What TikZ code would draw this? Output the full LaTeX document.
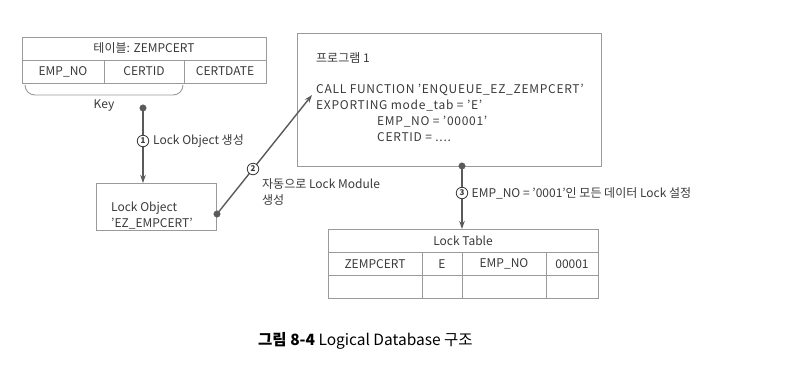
\documentclass[tikz,border=0pt]{standalone}
\usepackage{fontspec}
\setmainfont{Noto Sans CJK KR}
\usetikzlibrary{arrows.meta}
\definecolor{ink}{HTML}{3A3A3A}
\definecolor{frame}{HTML}{9A9A9A}
\definecolor{wire}{HTML}{5A5A5A}
\begin{document}
\begin{tikzpicture}[x=1pt,y=-1pt,
  txt/.style={text=ink,font=\fontsize{12}{14}\selectfont,inner sep=0pt},
  code/.style={txt,font=\fontsize{12}{14}\selectfont\addfontfeature{LetterSpace=6}},
  cell/.style={txt,anchor=center},
  frm/.style={draw=frame,line width=0.7pt},
  boxnode/.style={frm,rectangle,inner sep=0pt,anchor=north west},
  wireline/.style={draw=wire,line width=1.4pt},
  arr/.style={wireline,-{Stealth[length=8pt,width=5.5pt]}},
  pin/.style={circle,fill=wire,draw=wire,inner sep=0pt,minimum size=6.5pt},
  num/.style={circle,draw=ink,fill=white,line width=0.8pt,inner sep=0pt,minimum size=11.5pt,
    text=ink,font=\fontsize{8}{9}\selectfont\bfseries}
]
\fill[white] (0,0) rectangle (806,376);

% --- table ZEMPCERT ---
\node[boxnode,minimum width=244pt,minimum height=46pt] (ztab) at (22,37) {};
\draw[frm] (22,60) -- (266,60);
\draw[frm] (104,60) -- (104,83);
\draw[frm] (184,60) -- (184,83);
\node[cell] (ztitle) at (144,48.5) {테이블: ZEMPCERT};
\node[cell] (zc1) at (63,71.5) {EMP\_NO};
\node[cell] (zc2) at (144,71.5) {CERTID};
\node[cell] (zc3) at (225,71.5) {CERTDATE};
% key bracket
\draw[draw=frame,line width=0.9pt] (25,85) to[out=-90,in=180] (35,95) -- (173,95) to[out=0,in=-90] (183,85);
\node[cell] (key) at (104,105) {Key};

% --- Lock Object box ---
\node[boxnode,minimum width=120pt,minimum height=47pt] (lobj) at (96,183) {};
\node[txt,anchor=base west] (lobjt1) at (111,211) {Lock Object};
\node[txt,anchor=base west] (lobjt2) at (111,227) {'EZ\_EMPCERT'};

% --- program box ---
\node[boxnode,minimum width=304pt,minimum height=133pt] (prog) at (297,33) {};
\node[txt,anchor=base west] (p0) at (316,62) {프로그램 1};
\node[code,anchor=base west] (p1) at (316,93) {CALL FUNCTION 'ENQUEUE\_EZ\_ZEMPCERT'};
\node[code,anchor=base west] (p2) at (316,109) {EXPORTING mode\_tab = 'E'};
\node[code,anchor=base west] (p3) at (377,125) {EMP\_NO = '00001'};
\node[code,anchor=base west] (p4) at (377,141) {CERTID = ....};

% --- Lock Table ---
\node[boxnode,minimum width=270pt,minimum height=69pt] (ltab) at (328,229) {};
\draw[frm] (328,252) -- (598,252);
\draw[frm] (328,275) -- (598,275);
\foreach \cx in {422,462,546} \draw[frm] (\cx,252) -- (\cx,298);
\node[cell] (lt0) at (463,241) {Lock Table};
\node[cell] (lt1) at (375,264) {ZEMPCERT};
\node[cell] (lt2) at (442,264) {E};
\node[cell] (lt3) at (504,264) {EMP\_NO};
\node[cell] (lt4) at (572,264) {00001};

% --- connectors ---
\coordinate (keydot) at (143,108);
\coordinate (progtarget) at (312,95);
\draw[arr] (keydot) -- (keydot |- lobj.north);
\node[pin] (pin1) at (keydot) {};
\node[num] (n1) at (143,141) {1};
\node[txt,anchor=west] (l1) at (153,141) {Lock Object 생성};

\coordinate (lobjdot) at (217,214);
\draw[arr] (lobjdot) -- (progtarget);
\node[pin] (pin2) at (lobjdot) {};
\node[num] (n2) at (253,169) {2};
\node[txt,anchor=base west] (l2a) at (262,188) {자동으로 Lock Module};
\node[txt,anchor=base west] (l2b) at (262,204) {생성};

\coordinate (progdot) at (462,166);
\draw[arr] (progdot) -- (progdot |- ltab.north);
\node[pin] (pin3) at (progdot) {};
\node[num] (n3) at (462,193) {3};
\node[txt,anchor=west] (l3) at (471.5,193) {EMP\_NO = '0001'인 모든 데이터 Lock 설정};

% --- caption ---
\node[anchor=base west,inner sep=0pt,text=black,font=\fontsize{15.5}{17}\selectfont] (cap) at (258,345)
  {{\bfseries 그림 8-4} Logical Database 구조};
\end{tikzpicture}
\end{document}
